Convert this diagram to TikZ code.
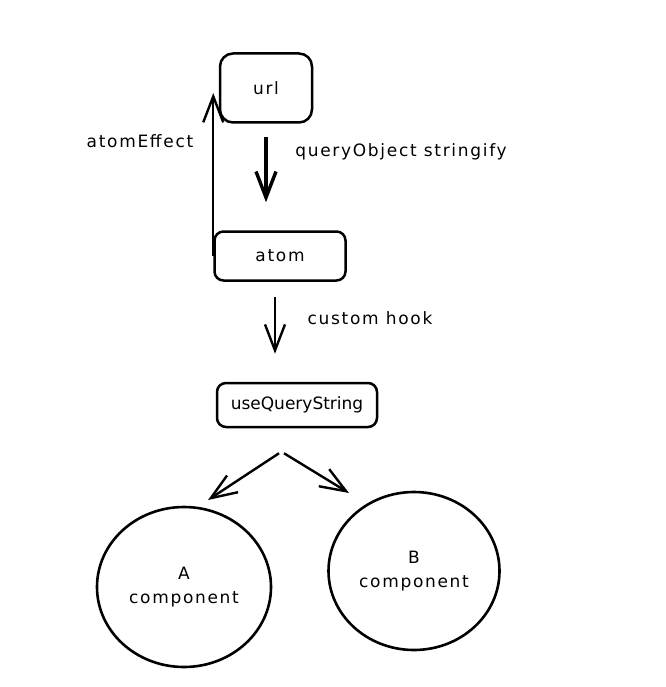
\documentclass[tikz,border=0pt]{standalone}
\usepackage{fontspec}
\setmainfont[LetterSpace=10]{DejaVu Sans}
\usetikzlibrary{arrows.meta,shapes.geometric,calc}
\tikzset{
  box/.style={draw,line width=2.5pt,rounded corners=9pt,inner sep=0pt,align=center},
  comp/.style={draw,ellipse,line width=2.6pt,inner sep=0pt,align=center},
  flow/.style={line width=2.4pt,-{Straight Barb[length=26pt,width=20pt]}},
  lbl/.style={inner sep=0pt},
  tight/.style={font=\fontsize{17}{24}\selectfont\addfontfeature{LetterSpace=0}}
}
\begin{document}
\begin{tikzpicture}[x=1pt,y=-1pt,font=\fontsize{17}{24}\selectfont]
        \fill[white] (0,0) rectangle (665,687);

        \node (url) at (266,88) [box,rounded corners=13pt,minimum width=92pt,minimum height=69pt] {url};
        \node (atom) at (280,256) [box,minimum width=131pt,minimum height=49pt] {atom};
        \node (qs) at (297,405) [box,tight,minimum width=160pt,minimum height=44pt] {useQueryString};
        \node (compA) at (184,587) [comp,minimum width=174pt,minimum height=160pt] {A\\component};
        \node (compB) at (414,571) [comp,minimum width=171pt,minimum height=158pt] {B\\component};

        \node (effect) at (140,141) [lbl] {atomEffect};
        \node (stringify) at (401,152) [lbl] {queryObject stringify};
        \node (hook) at (370,318) [lbl] {custom hook};

        \draw[flow,line width=3.4pt,shorten <=13pt,shorten >=28pt] (url.south) -- (url.south |- atom.north);
        \draw[flow,shorten >=5pt] (atom.west) -- (atom.west |- url.west);
        \draw[flow,shorten <=15pt,shorten >=28pt] ([xshift=-5pt]atom.south) -- ([xshift=-22pt]qs.north);

        \draw[flow] ($(qs.south)+(-18,25)$) -- ($(compA)+(24,-87)$);
        \draw[flow] ($(qs.south)+(-13,25)$) -- ($(compB)+(-65,-78)$);
\end{tikzpicture}
\end{document}
